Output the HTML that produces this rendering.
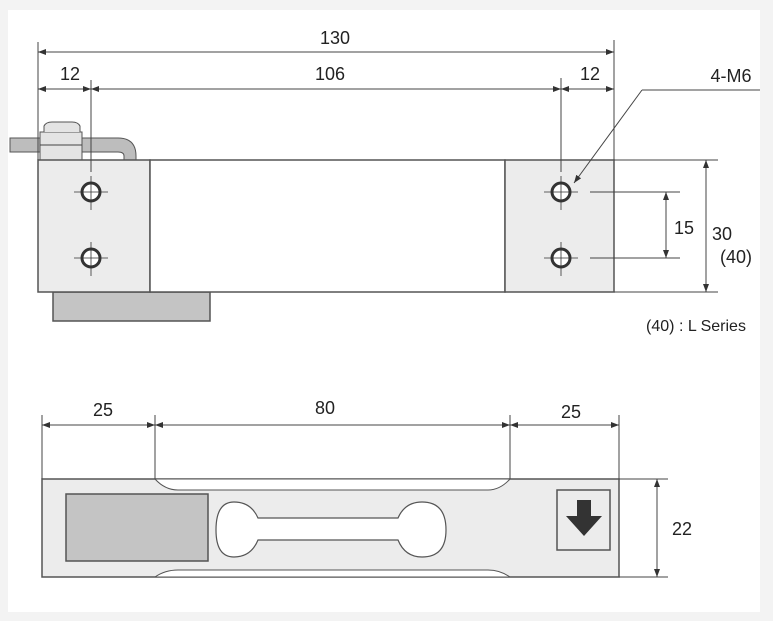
<!DOCTYPE html>
<html><head><style>
html,body{margin:0;padding:0;background:#f3f3f3;}
svg{display:block;}
text{font-family:"Liberation Sans",Arial,sans-serif;fill:#222;}
</style></head><body>
<svg width="773" height="621" viewBox="0 0 773 621" xmlns="http://www.w3.org/2000/svg">
<defs>
<marker id="a" markerWidth="8" markerHeight="6" refX="8" refY="3" orient="auto-start-reverse" markerUnits="userSpaceOnUse"><path d="M0,0 L8,3 L0,6 Z" fill="#333"/></marker>
</defs>
<rect x="8" y="10" width="752" height="602" fill="#fff"/>
<g stroke="#444" stroke-width="1" fill="none">
<path d="M10,138 H118 Q136,138 136,156 V160 H124 V156 Q124,152 118,152 H10 Z" fill="#bdbdbd" stroke="#555"/>
<rect x="40" y="132" width="42" height="28" fill="#e4e4e4" stroke="#555"/>
<path d="M44,132 V126 Q46,122 52,122 H72 Q78,122 80,126 V132" fill="#e4e4e4" stroke="#555"/>
<line x1="40" y1="145" x2="82" y2="145"/>
<rect x="53" y="292" width="157" height="29" fill="#c4c4c4" stroke="#555" stroke-width="1.5"/>
<rect x="38" y="160" width="112" height="132" fill="#ececec" stroke="#555" stroke-width="1.5"/>
<rect x="150" y="160" width="355" height="132" fill="#fff" stroke="#555" stroke-width="1.5"/>
<rect x="505" y="160" width="109" height="132" fill="#ececec" stroke="#555" stroke-width="1.5"/>
<g stroke="#333" stroke-width="3" fill="#fff">
<circle cx="91" cy="192" r="9"/><circle cx="91" cy="258" r="9"/>
<circle cx="561" cy="192" r="9"/><circle cx="561" cy="258" r="9"/>
</g>
<g stroke="#333" stroke-width="0.8">
<path d="M74,192 H108 M91,176 V210 M74,258 H108 M91,242 V276"/>
<path d="M544,192 H578 M561,176 V210 M544,258 H578 M561,242 V276"/>
</g>
<path d="M38,42 V160 M614,40 V160 M91,80 V172 M561,78 V172"/>
<line x1="38" y1="52" x2="614" y2="52" marker-start="url(#a)" marker-end="url(#a)"/>
<line x1="38" y1="89" x2="91" y2="89" marker-start="url(#a)" marker-end="url(#a)"/>
<line x1="91" y1="89" x2="561" y2="89" marker-start="url(#a)" marker-end="url(#a)"/>
<line x1="561" y1="89" x2="614" y2="89" marker-start="url(#a)" marker-end="url(#a)"/>
<path d="M760,90 H642"/>
<line x1="642" y1="90" x2="574" y2="183" marker-end="url(#a)"/>
<path d="M590,192 H680 M590,258 H680 M614,160 H718 M614,292 H718"/>
<line x1="666" y1="192" x2="666" y2="258" marker-start="url(#a)" marker-end="url(#a)"/>
<line x1="706" y1="160" x2="706" y2="292" marker-start="url(#a)" marker-end="url(#a)"/>
<rect x="42" y="479" width="577" height="98" fill="#ececec" stroke="#555" stroke-width="1.5"/>
<path d="M155,479 Q165,490 178,490 H488 Q500,490 510,479 Z" fill="#fff" stroke="#555"/>
<path d="M155,577 Q165,570 178,570 H488 Q500,570 510,577 Z" fill="#fff" stroke="#555"/>
<rect x="66" y="494" width="142" height="67" fill="#c4c4c4" stroke="#555" stroke-width="1.5"/>
<path d="M258,518 H398 Q405,502 422,502 Q446,502 446,530 Q446,557 422,557 Q405,557 398,540 H258 Q251,557 234,557 Q216,557 216,530 Q216,502 234,502 Q251,502 258,518 Z" fill="#fff" stroke="#555" stroke-width="1.2"/>
<rect x="557" y="490" width="53" height="60" fill="#ececec" stroke="#555" stroke-width="1.5"/>
<path d="M577,500 H591 V516 H602 L584,536 L566,516 H577 Z" fill="#333" stroke="none"/>
<path d="M42,415 V479 M155,415 V479 M510,415 V479 M619,415 V479 M619,479 H668 M619,577 H668"/>
<line x1="42" y1="425" x2="155" y2="425" marker-start="url(#a)" marker-end="url(#a)"/>
<line x1="155" y1="425" x2="510" y2="425" marker-start="url(#a)" marker-end="url(#a)"/>
<line x1="510" y1="425" x2="619" y2="425" marker-start="url(#a)" marker-end="url(#a)"/>
<line x1="657" y1="479" x2="657" y2="577" marker-start="url(#a)" marker-end="url(#a)"/>
</g>
<g font-size="18">
<text x="335" y="44" text-anchor="middle">130</text>
<text x="70" y="80" text-anchor="middle">12</text>
<text x="330" y="80" text-anchor="middle">106</text>
<text x="590" y="80" text-anchor="middle">12</text>
<text x="731" y="82" text-anchor="middle">4-M6</text>
<text x="684" y="234" text-anchor="middle">15</text>
<text x="722" y="240" text-anchor="middle">30</text>
<text x="736" y="263" text-anchor="middle">(40)</text>
<text x="103" y="416" text-anchor="middle">25</text>
<text x="325" y="414" text-anchor="middle">80</text>
<text x="571" y="418" text-anchor="middle">25</text>
<text x="682" y="535" text-anchor="middle">22</text>
</g>
<text x="696" y="331" text-anchor="middle" font-size="16">(40) : L Series</text>
</svg>
</body></html>
